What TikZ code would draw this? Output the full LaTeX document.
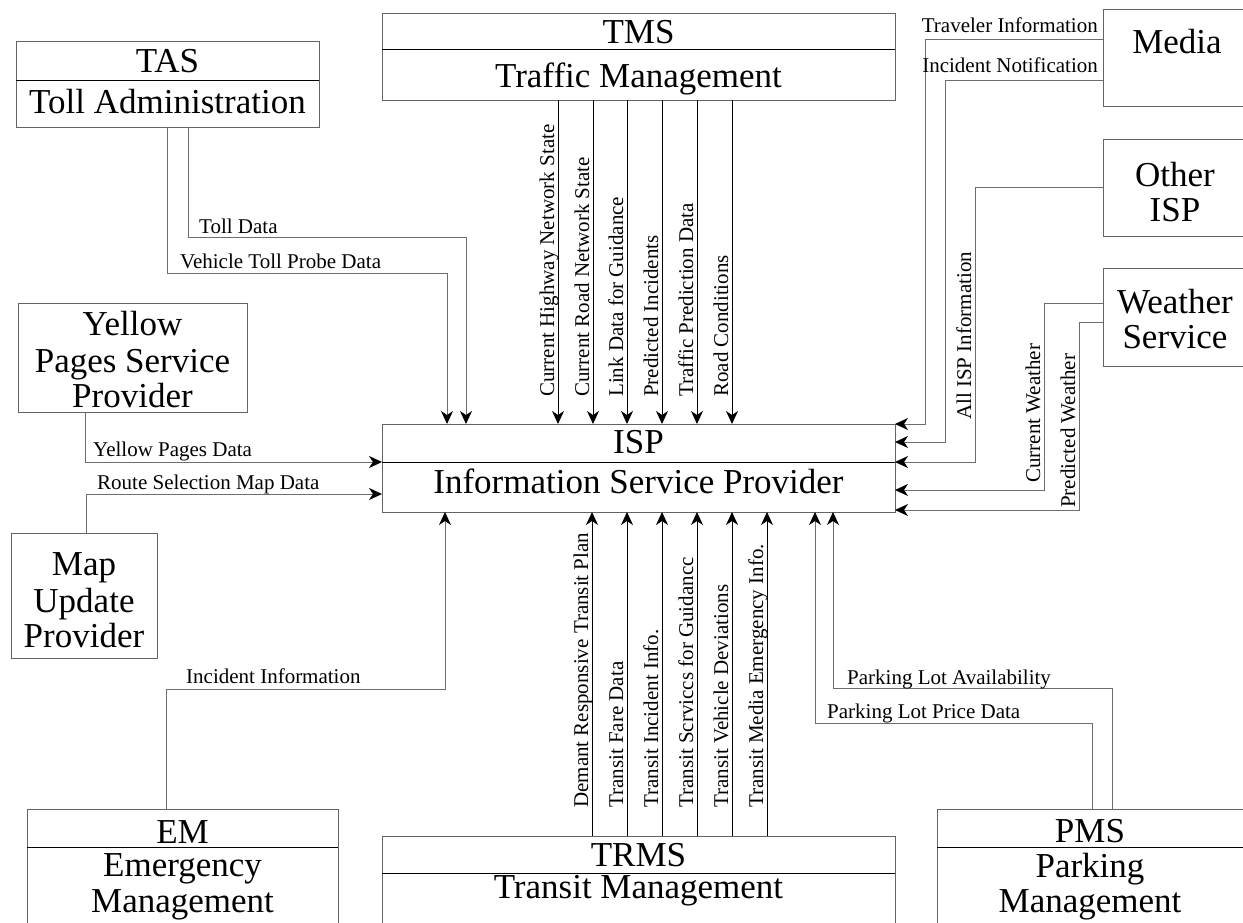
\documentclass[tikz,border=0pt]{standalone}
\usepackage{fontspec}
\setmainfont{Liberation Serif}
\usetikzlibrary{arrows.meta}
\definecolor{boxgray}{RGB}{100,100,100}
\definecolor{linegray}{RGB}{110,110,110}
\newcommand\boxfont{\fontsize{35}{37}\selectfont}
\newcommand\flowfont{\fontsize{21}{23}\selectfont}
\tikzset{
  box/.style={draw=boxgray, line width=1pt, rectangle, inner sep=0pt, outer sep=0pt, anchor=north west},
  title/.style={font=\boxfont, inner sep=0pt, anchor=base},
  lbl/.style={font=\flowfont, inner sep=0pt},
  vlbl/.style={lbl, rotate=90, anchor=base west},
  flow/.style={draw=linegray, line width=1pt, -{Stealth[length=13pt,width=12pt,inset=4pt,color=black]}},
  dflow/.style={flow, draw=black},
  divider/.style={draw=black, line width=1pt}
}
\begin{document}
\begin{tikzpicture}[x=1pt,y=-1pt]
\useasboundingbox (0,0) rectangle (1243,922);

% ---------- boxes ----------
\node[box, minimum width=303pt, minimum height=86pt]  (tas)  at (16,41)   {};
\node[box, minimum width=513pt, minimum height=87pt]  (tms)  at (382,13)  {};
\node[box, minimum width=150pt, minimum height=97pt]  (media) at (1103,9) {};
\node[box, minimum width=150pt, minimum height=97pt]  (oisp) at (1103,139) {};
\node[box, minimum width=150pt, minimum height=98pt]  (ws)   at (1103,268) {};
\node[box, minimum width=229pt, minimum height=109pt] (ypsp) at (18,303)  {};
\node[box, minimum width=513pt, minimum height=88pt]  (isp)  at (382,424) {};
\node[box, minimum width=146pt, minimum height=125pt] (map)  at (11,533)  {};
\node[box, minimum width=311pt, minimum height=120pt] (em)   at (27,809)  {};
\node[box, minimum width=513pt, minimum height=95pt]  (trms) at (382,836) {};
\node[box, minimum width=320pt, minimum height=120pt] (pms)  at (937,809) {};

% ---------- dividers ----------
\draw[divider] ([yshift=-39pt]tas.north west)  -- ([yshift=-39pt]tas.north east);
\draw[divider] ([yshift=-36pt]tms.north west)  -- ([yshift=-36pt]tms.north east);
\draw[divider] ([yshift=-38pt]isp.north west)  -- ([yshift=-38pt]isp.north east);
\draw[divider] ([yshift=-38pt]em.north west)   -- ([yshift=-38pt]em.north east);
\draw[divider] ([yshift=-37pt]trms.north west) -- ([yshift=-37pt]trms.north east);
\draw[divider] ([yshift=-38pt]pms.north west)  -- ([yshift=-38pt]pms.north east);

% ---------- box titles ----------
\node[title] (tasA) at (167.5,72)  {TAS};
\node[title] (tasB) at (167.5,113) {Toll Administration};
\node[title] (tmsA) at (638.5,43)  {TMS};
\node[title] (tmsB) at (638.5,87)  {Traffic Management};
\node[title] (mediaA) at (1177,53) {Media};
\node[title] (oispA) at (1175,186) {Other};
\node[title] (oispB) at (1175,221) {ISP};
\node[title] (wsA) at (1175,313)   {Weather};
\node[title] (wsB) at (1175,348)   {Service};
\node[title] (ypA) at (132.5,335)  {Yellow};
\node[title] (ypB) at (132.5,372)  {Pages Service};
\node[title] (ypC) at (132.5,407)  {Provider};
\node[title] (ispA) at (638.5,453) {ISP};
\node[title] (ispB) at (638.5,493) {Information Service Provider};
\node[title] (mapA) at (84,575)    {Map};
\node[title] (mapB) at (84,612)    {Update};
\node[title] (mapC) at (84,647)    {Provider};
\node[title] (emA) at (182.5,843)  {EM};
\node[title] (emB) at (182.5,876)  {Emergency};
\node[title] (emC) at (182.5,912)  {Management};
\node[title] (trmsA) at (638.5,866) {TRMS};
\node[title] (trmsB) at (638.5,898) {Transit Management};
\node[title] (pmsA) at (1090,842)  {PMS};
\node[title] (pmsB) at (1090,877)  {Parking};
\node[title] (pmsC) at (1090,912)  {Management};

% ---------- TMS -> ISP ----------
\foreach \dx/\txt in {176/Current Highway Network State, 211/Current Road Network State,
                      245/Link Data for Guidance, 280/Predicted Incidents,
                      315/Traffic Prediction Data, 350/Road Conditions}{
  \draw[dflow] ([xshift=\dx pt]tms.south west) -- ([xshift=\dx pt]isp.north west);
  \node[vlbl] at ({382+\dx-4},397) {\txt};
}

% ---------- TRMS -> ISP ----------
\foreach \dx/\txt in {210/Demant Responsive Transit Plan, 245/Transit Fare Data,
                      280/Transit Incident Info., 315/Transit Scrviccs for Guidancc,
                      350/Transit Vehicle Deviations, 385/Transit Media Emergency Info.}{
  \draw[dflow] ([xshift=\dx pt]trms.north west) -- ([xshift=\dx pt]isp.south west);
  \node[vlbl] at ({382+\dx-4},808) {\txt};
}

% ---------- TAS -> ISP ----------
\draw[flow] ([xshift=151pt]tas.south west) -- ++(0,146) -| ([xshift=65pt]isp.north west);
\draw[flow] ([xshift=172pt]tas.south west) -- ++(0,110) -| ([xshift=84pt]isp.north west);
\node[lbl, anchor=base west] at (199,233) {Toll Data};
\node[lbl, anchor=base west] at (180,268) {Vehicle Toll Probe Data};

% ---------- Yellow pages / map update -> ISP ----------
\draw[flow] ([xshift=67pt]ypsp.south west) |- ([yshift=-38pt]isp.north west);
\draw[flow] ([xshift=75pt]map.north west) |- ([yshift=-70pt]isp.north west);
\node[lbl, anchor=base west] at (93,456) {Yellow Pages Data};
\node[lbl, anchor=base west] at (97,489) {Route Selection Map Data};

% ---------- EM -> ISP ----------
\draw[flow] ([xshift=139pt]em.north west) -- ++(0,-120) -| ([xshift=63pt]isp.south west);
\node[lbl, anchor=base west] at (186,683) {Incident Information};

% ---------- PMS -> ISP ----------
\draw[flow] ([xshift=155pt]pms.north west) -- ++(0,-86) -| ([xshift=433pt]isp.south west);
\draw[flow] ([xshift=175pt]pms.north west) -- ++(0,-121) -| ([xshift=451pt]isp.south west);
\node[lbl, anchor=base west] at (847,684) {Parking Lot Availability};
\node[lbl, anchor=base west] at (827,718) {Parking Lot Price Data};

% ---------- Media / Other ISP / Weather -> ISP ----------
\draw[flow] ([yshift=-30pt]media.north west) -- ++(-178,0) |- (isp.north east);
\draw[flow] ([yshift=-71pt]media.north west) -- ++(-158,0) |- ([yshift=-18pt]isp.north east);
\draw[flow] ([yshift=-48pt]oisp.north west) -- ++(-128,0) |- ([yshift=-38pt]isp.north east);
\draw[flow] ([yshift=-35pt]ws.north west) -- ++(-59,0) |- ([yshift=-66pt]isp.north east);
\draw[flow] ([yshift=-54pt]ws.north west) -- ++(-24,0) |- ([yshift=-86pt]isp.north east);
\node[lbl, anchor=base east] at (1098,32) {Traveler Information};
\node[lbl, anchor=base east] at (1098,72) {Incident Notification};
\node[vlbl] at (971,420)  {All ISP Information};
\node[vlbl] at (1040,483) {Current Weather};
\node[vlbl] at (1075,508) {Predicted Weather};
\end{tikzpicture}
\end{document}
